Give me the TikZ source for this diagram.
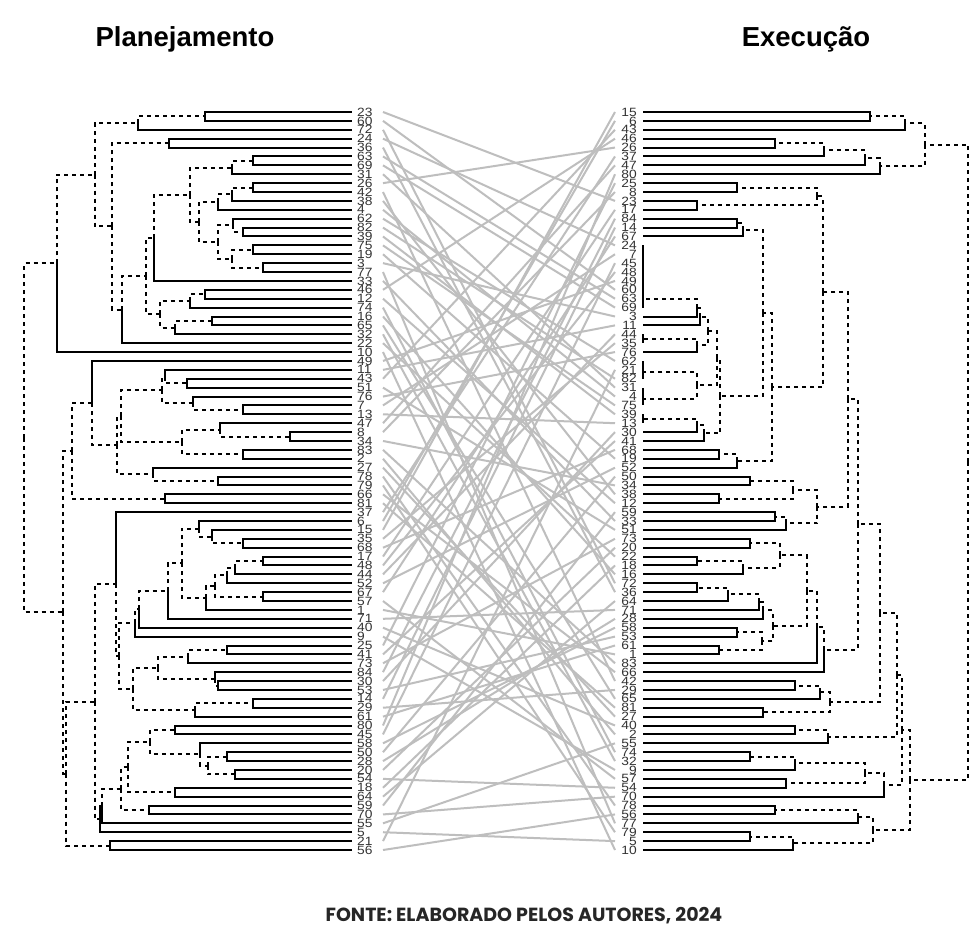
\documentclass[tikz,border=0pt]{standalone}
\usepackage{fontspec}
\setmainfont{Liberation Sans}
\newfontfamily\footfont{Poppins}
\newfontfamily\labfont[FakeStretch=1.15]{Liberation Sans}
\usetikzlibrary{calc}
\definecolor{tanglegray}{RGB}{190,190,190}
\tikzstyle{sol}=[line width=2pt, black]
\tikzstyle{dsh}=[sol, dash pattern=on 4pt off 4pt]
\tikzstyle{leaflab}=[font=\labfont\fontsize{12}{12}\selectfont, inner sep=0pt, text=black!80]
\tikzstyle{tangle}=[line width=2pt, color=tanglegray]
\tikzstyle{sidetitle}=[font=\fontsize{27.5}{30}\selectfont\bfseries, inner sep=0pt, anchor=base]
% join two children (#3,#4) at height #2
\newcommand{\jn}[6]{%
  \coordinate (jtmp) at ($(#3)!0.5!(#4)$);
  \coordinate (#1) at (jtmp -| #2,0);
  \draw[#5] (#1) |- (#3);
  \draw[#6] (#1) |- (#4);
}
\begin{document}
\begin{tikzpicture}[x=1pt,y=-1pt]
\useasboundingbox (0,0) rectangle (974,941);
\fill[white] (0,0) rectangle (974,941);

\node[sidetitle] (tplan) at (185,47) {Planejamento};
\node[sidetitle] (texec) at (806,47) {Execução};
\node[font=\footfont\fontsize{19}{20}\selectfont\bfseries, text=black!85, anchor=base] (fonte) at (524,921) {FONTE: ELABORADO PELOS AUTORES, 2024};

% leaves
\foreach \lab [count=\i from 0] in {23,60,72,24,36,63,69,31,26,42,38,4,62,82,39,75,19,3,77,33,46,12,74,16,65,32,22,10,49,11,43,51,76,7,13,47,8,34,83,2,27,78,79,66,81,37,6,15,35,68,17,48,44,52,67,57,1,71,40,9,25,41,73,84,30,53,14,29,61,80,45,58,50,28,20,54,18,64,59,70,55,5,21,56}{
  \coordinate (pl\i) at (352,{112+8.8916*\i});
  \node[leaflab, anchor=west] (plt\lab) at (357,{112+8.8916*\i}) {\lab};
  \coordinate (pa\lab) at (383,{112+8.8916*\i});
}
\foreach \lab [count=\i from 0] in {15,6,43,46,26,37,47,80,25,8,23,17,84,14,67,24,7,45,48,49,60,63,69,3,11,44,35,76,62,21,82,31,4,75,39,13,30,41,68,19,52,50,34,38,12,59,33,51,73,20,22,18,16,72,36,64,71,28,58,53,61,1,83,66,42,29,65,81,27,40,2,55,74,32,9,57,54,70,78,56,77,79,5,10}{
  \coordinate (ex\i) at (643,{112+8.8916*\i});
  \node[leaflab, anchor=east] (ext\lab) at (637,{112+8.8916*\i}) {\lab};
  \coordinate (ea\lab) at (615,{112+8.8916*\i});
}

% tangle lines
\foreach \n in {1,...,84}
  \draw[tangle] (pa\n) -- (ea\n);

% Planejamento
\jn{Pa1}{205}{pl0}{pl1}{sol}{sol}
\jn{Pa2}{138}{Pa1}{pl2}{dsh}{sol}
\jn{Pa3}{169}{pl3}{pl4}{sol}{sol}
\jn{Pb1}{253}{pl5}{pl6}{sol}{sol}
\jn{Pb2}{232}{Pb1}{pl7}{dsh}{sol}
\jn{Pb3}{253}{pl8}{pl9}{sol}{sol}
\jn{Pb4}{232}{Pb3}{pl10}{dsh}{sol}
\jn{Pb5}{218}{Pb4}{pl11}{dsh}{sol}
\jn{Pc1}{243}{pl13}{pl14}{sol}{sol}
\jn{Pc2}{233}{pl12}{Pc1}{sol}{dsh}
\jn{Pd0}{253}{pl15}{pl16}{sol}{sol}
\jn{Pd1}{263}{pl17}{pl18}{sol}{sol}
\jn{Pd2}{232}{Pd0}{Pd1}{dsh}{dsh}
\jn{Pd3}{218}{Pc2}{Pd2}{dsh}{dsh}
\jn{Pd4}{199}{Pb5}{Pd3}{dsh}{dsh}
\jn{Pd5}{190}{Pb2}{Pd4}{dsh}{dsh}
\jn{Pd6}{154}{Pd5}{pl19}{dsh}{sol}
\jn{Pe1}{205}{pl20}{pl21}{sol}{sol}
\jn{Pe2}{190}{Pe1}{pl22}{dsh}{sol}
\jn{Pe3}{212}{pl23}{pl24}{sol}{sol}
\jn{Pe4}{175}{Pe3}{pl25}{dsh}{sol}
\jn{Pe5}{160}{Pe2}{Pe4}{dsh}{dsh}
\jn{Pe6}{146}{Pd6}{Pe5}{dsh}{dsh}
\jn{Pe7}{122}{Pe6}{pl26}{dsh}{sol}
\jn{Pe8}{112}{Pa3}{Pe7}{dsh}{dsh}
\jn{Pe9}{95}{Pa2}{Pe8}{dsh}{dsh}
\jn{Pe10}{57}{Pe9}{pl27}{dsh}{sol}
\jn{Pg1}{187}{pl30}{pl31}{sol}{sol}
\jn{Pg1a}{165}{pl29}{Pg1}{sol}{dsh}
\jn{Pg4}{243}{pl33}{pl34}{sol}{sol}
\jn{Pg5}{193}{pl32}{Pg4}{sol}{dsh}
\jn{Pg2}{162}{Pg1a}{Pg5}{dsh}{dsh}
\jn{Ph1}{290}{pl36}{pl37}{sol}{sol}
\jn{Ph2}{220}{pl35}{Ph1}{sol}{dsh}
\jn{Ph3}{243}{pl38}{pl39}{sol}{sol}
\jn{Ph4}{182}{Ph2}{Ph3}{dsh}{dsh}
\jn{Ph5}{121}{Pg2}{Ph4}{dsh}{dsh}
\jn{Pk1}{218}{pl41}{pl42}{sol}{sol}
\jn{Pk2}{153}{pl40}{Pk1}{sol}{dsh}
\jn{Ph6}{117}{Ph5}{Pk2}{dsh}{dsh}
\jn{Pf1}{92}{pl28}{Ph6}{sol}{dsh}
\jn{Pm1}{165}{pl43}{pl44}{sol}{sol}
\jn{Pm2}{72}{Pf1}{Pm1}{dsh}{dsh}
\jn{Pp1}{243}{pl48}{pl49}{sol}{sol}
\jn{Pp2}{212}{pl47}{Pp1}{sol}{dsh}
\jn{Pp3}{199}{pl46}{Pp2}{sol}{dsh}
\jn{Pq1}{263}{pl50}{pl51}{sol}{sol}
\jn{Pq2}{235}{Pq1}{pl52}{dsh}{sol}
\jn{Pq3}{227}{Pq2}{pl53}{dsh}{sol}
\jn{Pr1}{263}{pl54}{pl55}{sol}{sol}
\jn{Pr2}{215}{Pq3}{Pr1}{dsh}{dsh}
\jn{Pr3}{206}{Pr2}{pl56}{dsh}{sol}
\jn{Pr4}{182}{Pp3}{Pr3}{dsh}{dsh}
\jn{Pr5}{168}{Pr4}{pl57}{dsh}{sol}
\jn{Pr6}{139}{Pr5}{pl58}{dsh}{sol}
\jn{Pr7}{135}{Pr6}{pl59}{dsh}{sol}
\jn{Ps1}{227}{pl60}{pl61}{sol}{sol}
\jn{Ps2}{188}{Ps1}{pl62}{dsh}{sol}
\jn{Ps3a}{218}{pl64}{pl65}{sol}{sol}
\jn{Ps3}{215}{pl63}{Ps3a}{sol}{dsh}
\jn{Ps4}{158}{Ps2}{Ps3}{dsh}{dsh}
\jn{Pt1}{253}{pl66}{pl67}{sol}{sol}
\jn{Pt2}{195}{Pt1}{pl68}{dsh}{sol}
\jn{Pw1}{133}{Ps4}{Pt2}{dsh}{dsh}
\jn{Pu1}{119}{Pr7}{Pw1}{dsh}{dsh}
\jn{Pv1}{116}{pl45}{Pu1}{sol}{dsh}
\jn{Px1}{175}{pl69}{pl70}{sol}{sol}
\jn{Py1}{227}{pl72}{pl73}{sol}{sol}
\jn{Py2}{235}{pl74}{pl75}{sol}{sol}
\jn{Py3}{208}{Py1}{Py2}{dsh}{dsh}
\jn{Py4}{200}{pl71}{Py3}{sol}{dsh}
\jn{Py5}{150}{Px1}{Py4}{dsh}{dsh}
\jn{Px2}{175}{pl76}{pl77}{sol}{sol}
\jn{Py6}{128}{Py5}{Px2}{dsh}{dsh}
\jn{Pz3}{149}{pl78}{pl79}{sol}{sol}
\jn{Py7}{121}{Py6}{Pz3}{dsh}{dsh}
\jn{Pz4}{102}{Py7}{pl80}{dsh}{sol}
\jn{Pz5}{100}{Pz4}{pl81}{sol}{sol}
\jn{Pn1}{95}{Pv1}{Pz5}{dsh}{dsh}
\jn{Pz1}{110}{pl82}{pl83}{sol}{sol}
\jn{Pc0}{66}{Pn1}{Pz1}{dsh}{dsh}
\jn{Pb0}{63}{Pm2}{Pc0}{dsh}{dsh}
\jn{Proot}{24}{Pe10}{Pb0}{dsh}{dsh}

% Execucao
\jn{EP1}{870}{ex0}{ex1}{sol}{sol}
\jn{EP2}{905}{EP1}{ex2}{dsh}{sol}
\jn{EQ1}{775}{ex3}{ex4}{sol}{sol}
\jn{EQ2}{824}{EQ1}{ex5}{dsh}{sol}
\jn{EQ3}{865}{EQ2}{ex6}{dsh}{sol}
\jn{EQ4}{880}{EQ3}{ex7}{dsh}{sol}
\jn{EQ5}{925}{EP2}{EQ4}{dsh}{dsh}
\jn{ES0a}{737}{ex8}{ex9}{sol}{sol}
\jn{ES0b}{697}{ex10}{ex11}{sol}{sol}
\jn{ES1}{817}{ES0a}{ES0b}{dsh}{dsh}
\jn{ET1}{737}{ex12}{ex13}{sol}{sol}
\jn{ET2}{743}{ET1}{ex14}{dsh}{sol}
\jn{EG1}{643}{ex15}{ex16}{sol}{sol}
\jn{EG2}{643}{EG1}{ex17}{sol}{sol}
\jn{EG3}{643}{EG2}{ex18}{sol}{sol}
\jn{EG4}{643}{EG3}{ex19}{sol}{sol}
\jn{EG5}{643}{EG4}{ex20}{sol}{sol}
\jn{EG6}{643}{EG5}{ex21}{sol}{sol}
\jn{EG7}{643}{EG6}{ex22}{sol}{sol}
\jn{EU1}{697}{EG7}{ex23}{dsh}{sol}
\jn{EU2}{700}{EU1}{ex24}{dsh}{sol}
\jn{EV0}{643}{ex25}{ex26}{sol}{sol}
\jn{EV1}{697}{EV0}{ex27}{dsh}{sol}
\jn{EU3}{708}{EU2}{EV1}{dsh}{dsh}
\jn{EW1a}{643}{ex28}{ex29}{sol}{sol}
\jn{EW1}{643}{EW1a}{ex30}{sol}{sol}
\jn{EW2a}{643}{ex31}{ex32}{sol}{sol}
\jn{EW2}{643}{EW2a}{ex33}{sol}{sol}
\jn{EW3}{697}{EW1}{EW2}{dsh}{dsh}
\jn{EX0}{643}{ex34}{ex35}{sol}{sol}
\jn{EX1}{697}{EX0}{ex36}{dsh}{sol}
\jn{EX2}{704}{EX1}{ex37}{dsh}{sol}
\jn{EY1}{717}{EU3}{EW3}{dsh}{dsh}
\jn{EY2}{720}{EY1}{EX2}{dsh}{dsh}
\jn{EZ1}{763}{ET2}{EY2}{dsh}{dsh}
\jn{EZ2a}{719}{ex38}{ex39}{sol}{sol}
\jn{EZ2}{737}{EZ2a}{ex40}{dsh}{sol}
\jn{EZ3}{772}{EZ1}{EZ2}{dsh}{dsh}
\jn{EZ4}{823}{ES1}{EZ3}{dsh}{dsh}
\jn{EA1a}{750}{ex41}{ex42}{sol}{sol}
\jn{EA1b}{719}{ex43}{ex44}{sol}{sol}
\jn{EA1}{793}{EA1a}{EA1b}{dsh}{dsh}
\jn{EA2a}{775}{ex45}{ex46}{sol}{sol}
\jn{EA2}{786}{EA2a}{ex47}{dsh}{sol}
\jn{EA3}{817}{EA1}{EA2}{dsh}{dsh}
\jn{EA4}{848}{EZ4}{EA3}{dsh}{dsh}
\jn{EB1}{750}{ex48}{ex49}{sol}{sol}
\jn{EB2a}{697}{ex50}{ex51}{sol}{sol}
\jn{EB2}{743}{EB2a}{ex52}{dsh}{sol}
\jn{EB3}{780}{EB1}{EB2}{dsh}{dsh}
\jn{EC1}{697}{ex53}{ex54}{sol}{sol}
\jn{EC2}{728}{EC1}{ex55}{dsh}{sol}
\jn{EC3}{759}{EC2}{ex56}{dsh}{sol}
\jn{EC4}{763}{EC3}{ex57}{dsh}{sol}
\jn{ED1}{737}{ex58}{ex59}{sol}{sol}
\jn{ED2}{719}{ex60}{ex61}{sol}{sol}
\jn{ED3}{762}{ED1}{ED2}{dsh}{dsh}
\jn{EE1}{773}{EC4}{ED3}{dsh}{dsh}
\jn{EF1}{807}{EB3}{EE1}{dsh}{dsh}
\jn{EH0}{817}{EF1}{ex62}{dsh}{sol}
\jn{EH1}{824}{EH0}{ex63}{dsh}{sol}
\jn{EI1}{858}{EA4}{EH1}{dsh}{dsh}
\jn{EJ1}{795}{ex64}{ex65}{sol}{sol}
\jn{EJ2}{820}{EJ1}{ex66}{dsh}{sol}
\jn{EJ0}{763}{ex67}{ex68}{sol}{sol}
\jn{EJ3}{830}{EJ2}{EJ0}{dsh}{dsh}
\jn{EK1}{880}{EI1}{EJ3}{dsh}{dsh}
\jn{EL1}{795}{ex69}{ex70}{sol}{sol}
\jn{EL2}{828}{EL1}{ex71}{dsh}{sol}
\jn{EM1}{897}{EK1}{EL2}{dsh}{dsh}
\jn{EN1}{750}{ex72}{ex73}{sol}{sol}
\jn{EN2}{795}{EN1}{ex74}{dsh}{sol}
\jn{EN0}{786}{ex75}{ex76}{sol}{sol}
\jn{EN3}{865}{EN2}{EN0}{dsh}{dsh}
\jn{EN4}{884}{EN3}{ex77}{dsh}{sol}
\jn{EO1}{902}{EM1}{EN4}{dsh}{dsh}
\jn{ER1}{775}{ex78}{ex79}{sol}{sol}
\jn{ER2}{858}{ER1}{ex80}{dsh}{sol}
\jn{ER3}{750}{ex81}{ex82}{sol}{sol}
\jn{ER4}{793}{ER3}{ex83}{dsh}{sol}
\jn{ER5}{873}{ER2}{ER4}{dsh}{dsh}
\jn{ES2}{910}{EO1}{ER5}{dsh}{dsh}
\jn{Eroot}{968}{EQ5}{ES2}{dsh}{dsh}
\end{tikzpicture}
\end{document}
